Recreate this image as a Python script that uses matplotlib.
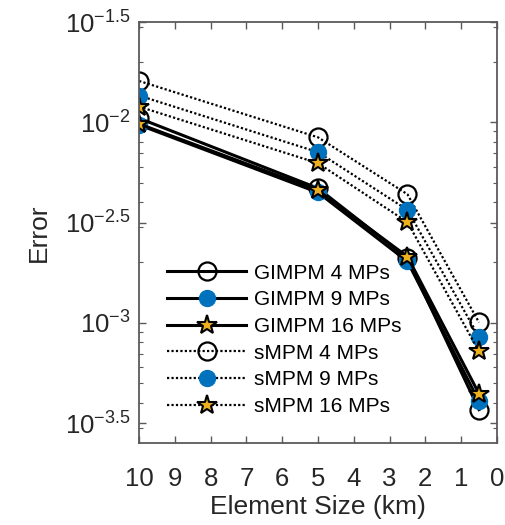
import numpy as np
import matplotlib
matplotlib.use('Agg')
import matplotlib.pyplot as plt
from matplotlib.ticker import FixedLocator, FuncFormatter, LogLocator, NullFormatter

plt.rcParams['font.family'] = ['Liberation Sans', 'DejaVu Sans']
plt.rcParams['mathtext.fontset'] = 'custom'
plt.rcParams['mathtext.rm'] = 'Liberation Sans'
plt.rcParams['mathtext.it'] = 'Liberation Sans'

# element sizes (km)
elem_size = [10, 5, 2.5, 0.5]

# log10 of error
gimpm_4 = [-1.980, -2.329, -2.678, -3.433]
gimpm_9 = [-2.013, -2.350, -2.694, -3.392]
gimpm_16 = [-2.008, -2.340, -2.670, -3.354]
smpm_4 = [-1.794, -2.075, -2.359, -2.998]
smpm_9 = [-1.867, -2.149, -2.437, -3.071]
smpm_16 = [-1.922, -2.204, -2.498, -3.143]

labels = ['GIMPM 4 MPs', 'GIMPM 9 MPs', 'GIMPM 16 MPs',
          'sMPM 4 MPs', 'sMPM 9 MPs', 'sMPM 16 MPs']
series = [gimpm_4, gimpm_9, gimpm_16, smpm_4, smpm_9, smpm_16]

blue = '#0072BD'
gold = '#EDB120'
marker_style = [
    dict(marker='o', markerfacecolor='none', markeredgecolor='black', markersize=13, markeredgewidth=1.6),
    dict(marker='o', markerfacecolor=blue, markeredgecolor=blue, markersize=11.5, markeredgewidth=1.0),
    dict(marker='*', markerfacecolor=gold, markeredgecolor='black', markersize=15, markeredgewidth=1.5),
]

fig = plt.figure(figsize=(5.06, 5.25), dpi=100)
ax = fig.add_axes([0.275, 0.156, 0.707, 0.802])

for i, (vals, lab) in enumerate(zip(series, labels)):
    y = 10 ** np.array(vals)
    if i < 3:
        ls = dict(linestyle='-', linewidth=2.2)
    else:
        ls = dict(linestyle=(0, (1, 1)), linewidth=1.6)
    ax.plot(elem_size, y, color='black', label=lab, **ls, **marker_style[i % 3])

ax.set_yscale('log')
ax.set_xlim(10, 0)
ax.set_ylim(10 ** -3.6, 10 ** -1.5)
ax.set_xticks(range(10, -1, -1))

major = 10 ** np.arange(-3.5, -1.49, 0.5)
ax.yaxis.set_major_locator(FixedLocator(major))
ax.yaxis.set_major_formatter(FuncFormatter(
    lambda v, p: r'$10^{%g}$' % round(np.log10(v), 1)))
ax.yaxis.set_minor_locator(LogLocator(base=10, subs=np.arange(2, 10)))
ax.yaxis.set_minor_formatter(NullFormatter())

axcol = '#5a5a5a'
for s in ax.spines.values():
    s.set_color(axcol)
    s.set_linewidth(1.3)
ax.tick_params(which='both', direction='in', top=True, right=True, colors=axcol,
               labelcolor='#262626', labelsize=18.5)
ax.tick_params(which='major', length=5, width=1.0)
ax.tick_params(which='minor', length=3, width=0.8)
ax.tick_params(axis='x', pad=17)
ax.tick_params(axis='y', pad=6)

ax.set_xlabel('Element Size (km)', fontsize=19, color='#262626', labelpad=3)
ax.set_ylabel('Error', fontsize=19, color='#262626', labelpad=10)

ax.legend(loc='lower left', bbox_to_anchor=(0.078, 0.064), frameon=False, fontsize=15,
          handlelength=3.8, handletextpad=0.35, labelspacing=0.37,
          borderaxespad=0, borderpad=0)

fig.savefig('out.png', dpi=100)
